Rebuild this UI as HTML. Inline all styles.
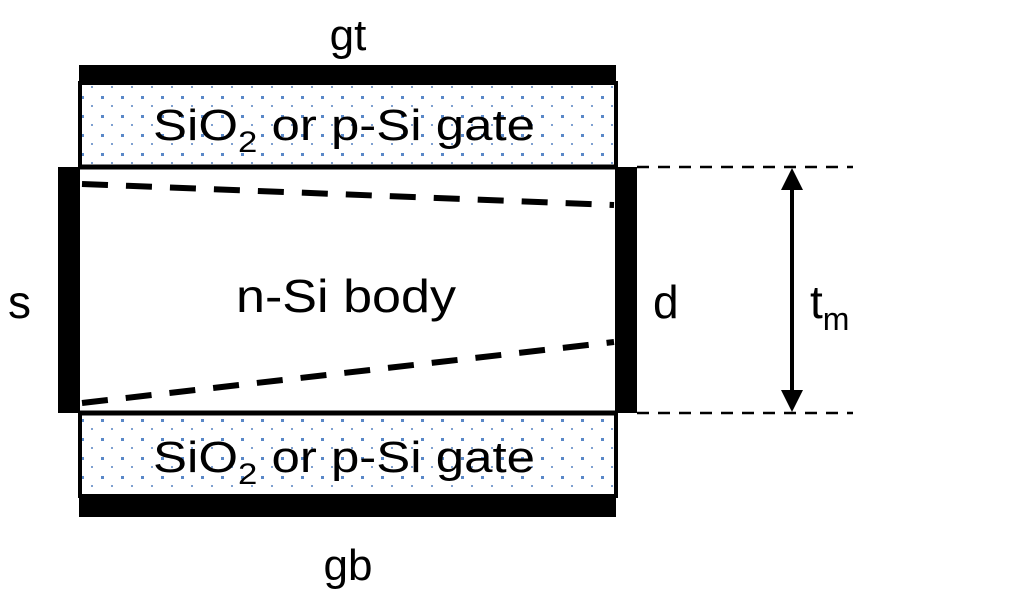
<!DOCTYPE html>
<html><head><style>html,body{margin:0;padding:0;background:#fff;}svg{display:block}</style></head>
<body>
<svg width="1013" height="597" viewBox="0 0 1013 597" xmlns="http://www.w3.org/2000/svg" font-family="Liberation Sans, sans-serif">
<defs>
<pattern id="dots" x="0" y="0" width="20" height="19" patternUnits="userSpaceOnUse">
<rect x="1" y="1" width="3" height="3" fill="#5a88c8"/>
<rect x="11" y="10" width="2" height="2" fill="#7fa0d0"/>
</pattern>
</defs>
<rect x="80" y="83" width="536" height="84" fill="url(#dots)" stroke="#000" stroke-width="4"/>
<rect x="80" y="413" width="536" height="83" fill="url(#dots)" stroke="#000" stroke-width="4"/>
<rect x="79" y="65" width="537" height="19" fill="#000"/>
<rect x="79" y="495" width="537" height="22" fill="#000"/>
<line x1="80" y1="167" x2="616" y2="167" stroke="#000" stroke-width="5"/>
<line x1="80" y1="413" x2="616" y2="413" stroke="#000" stroke-width="5"/>
<rect x="58" y="167" width="22" height="246" fill="#000"/>
<rect x="615" y="167" width="22" height="246" fill="#000"/>
<line x1="82" y1="184" x2="614" y2="205" stroke="#000" stroke-width="6" stroke-dasharray="26,18"/>
<line x1="82" y1="403" x2="614" y2="342" stroke="#000" stroke-width="6" stroke-dasharray="26,18"/>
<line x1="637" y1="167" x2="853" y2="167" stroke="#000" stroke-width="2.5" stroke-dasharray="12,9"/>
<line x1="637" y1="413" x2="853" y2="413" stroke="#000" stroke-width="2.5" stroke-dasharray="12,9"/>
<line x1="792" y1="185" x2="792" y2="395" stroke="#000" stroke-width="4"/>
<polygon points="792,168 781,190 803,190" fill="#000"/>
<polygon points="792,412 781,390 803,390" fill="#000"/>
<text x="348" y="50" font-size="44" text-anchor="middle">gt</text>
<text x="348" y="580" font-size="44" text-anchor="middle">gb</text>
<text x="153" y="140" font-size="44" textLength="382" lengthAdjust="spacingAndGlyphs">SiO<tspan font-size="30" dy="12">2</tspan><tspan dy="-12"> or p-Si gate</tspan></text>
<text x="153" y="472" font-size="44" textLength="382" lengthAdjust="spacingAndGlyphs">SiO<tspan font-size="30" dy="12">2</tspan><tspan dy="-12"> or p-Si gate</tspan></text>
<text x="236" y="312" font-size="46" textLength="220" lengthAdjust="spacingAndGlyphs">n-Si body</text>
<text x="8" y="318" font-size="46">s</text>
<text x="653" y="318" font-size="46">d</text>
<text x="810" y="318" font-size="46">t<tspan font-size="32" dy="12">m</tspan></text>
</svg>
</body></html>
